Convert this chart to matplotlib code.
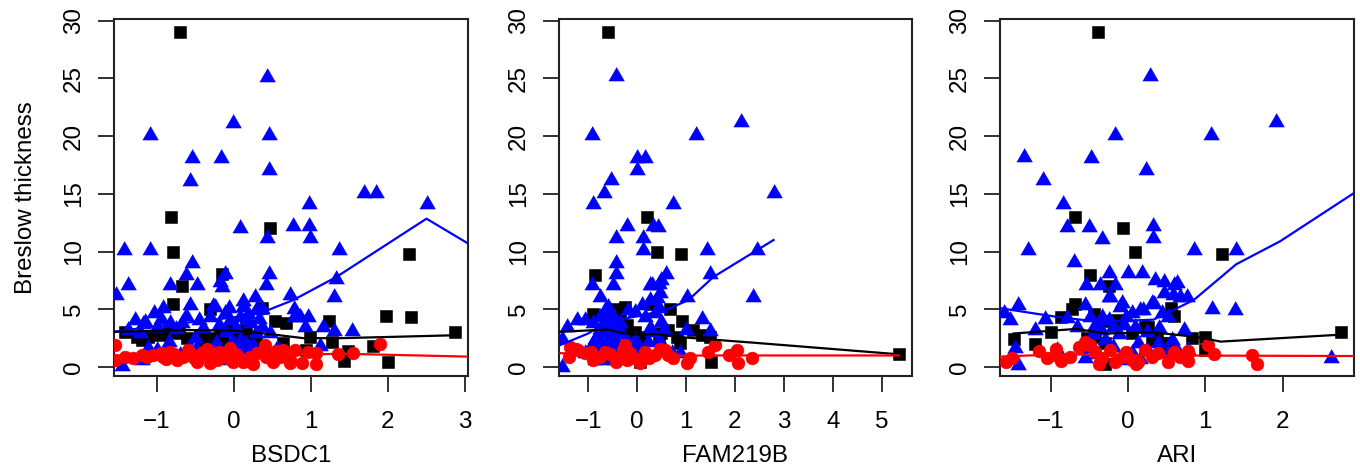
import matplotlib
matplotlib.use("Agg")
import matplotlib.pyplot as plt
import numpy as np

plt.rcParams['font.family'] = ['Liberation Sans', 'DejaVu Sans']

# ---------------- data ----------------
genes = ["BSDC1", "FAM219B", "ARI"]
y_label = "Breslow thickness"
y_ticks = [0, 5, 10, 15, 20, 25, 30]
x_ticks = [[-1, 0, 1, 2, 3], [-1, 0, 1, 2, 3, 4, 5], [-1, 0, 1, 2]]
x_limits = [(-1.558, 3.039), (-1.595, 5.62), (-1.656, 2.924)]
y_limits = (-0.78, 30.15)

# Panel 1 (BSDC1)
p1_blue = [(-1.53, 6.2), (-1.43, 10.1), (-1.37, 7.1), (-1.46, 0.1), (-1.28, 4.1), (-1.20, 0.6),
           (-1.18, 3.7), (-1.09, 20.1), (-1.09, 10.1), (-1.04, 4.7), (-0.92, 5.1), (-0.83, 7.1),
           (-0.62, 8.0), (-0.57, 16.1), (-0.54, 18.1), (-0.54, 9.0), (-0.57, 5.4), (-0.48, 7.1),
           (-0.45, 4.1), (-0.49, 1.56), (-0.27, 5.25), (-0.23, 2.1), (-0.17, 18.1), (-0.18, 7.4),
           (-0.12, 8.1), (-0.15, 6.9), (-0.07, 5.1), (-0.01, 21.1), (0.0, 0.8), (0.08, 12.0),
           (0.12, 5.7), (0.17, 4.1), (0.25, 1.8), (0.27, 6.1), (0.43, 25.1), (0.46, 20.1),
           (0.45, 17.1), (0.43, 11.2), (0.45, 8.1), (0.41, 7.1), (0.37, 5.0), (0.43, 1.5),
           (0.59, 1.5), (0.73, 6.2), (0.77, 12.2), (0.78, 5.0), (0.78, 4.3), (0.98, 14.1),
           (0.98, 12.2), (0.99, 11.2), (0.96, 4.3), (1.12, 1.8), (1.16, 3.5), (1.30, 6.1),
           (1.32, 7.6), (1.37, 10.1), (1.30, 3.1), (1.53, 3.1), (1.69, 15.1), (1.84, 15.1),
           (2.51, 14.1), (-0.25, 5.23), (0.29, 4.94), (-1.16, 3.93), (-1.37, 3.21), (-1.22, 2.92),
           (-1.00, 3.50), (-0.83, 3.78), (-0.68, 3.78), (-0.31, 4.36), (-0.12, 4.65), (-0.05, 4.07),
           (0.08, 4.36), (0.12, 5.23), (0.21, 3.78), (0.36, 3.50), (0.47, 2.92), (0.86, 4.36),
           (0.92, 3.50), (-0.85, 2.19), (-1.11, 1.62), (-1.00, 1.47), (-0.59, 1.62), (-0.25, 1.91),
           (-0.03, 2.19), (0.08, 2.34), (0.19, 1.76), (0.29, 2.92), (0.55, 1.47), (-0.09, 0.61),
           (0.04, 1.47), (0.14, 2.05), (-0.75, 3.3), (-0.62, 4.4), (-0.40, 3.4), (-0.20, 3.6),
           (-0.10, 3.0), (0.03, 3.4), (0.18, 4.6), (0.33, 4.2), (-0.95, 4.2), (-0.50, 2.5),
           (-0.35, 1.3), (-0.15, 1.0), (0.10, 1.1), (-0.70, 1.0), (-0.88, 1.3)]
p1_black = [(-0.70, 29.0), (-0.82, 13.0), (-0.79, 10.0), (-0.68, 7.0), (-0.79, 5.5), (-0.31, 5.0),
            (-0.16, 8.1), (0.47, 12.0), (0.37, 5.1), (0.53, 4.0), (0.67, 3.8), (0.64, 2.1),
            (0.99, 2.6), (0.94, 1.5), (1.24, 4.0), (1.27, 2.2), (1.43, 0.5), (1.48, 1.4),
            (1.81, 1.8), (1.98, 4.4), (2.0, 0.4), (2.27, 9.8), (2.30, 4.3), (2.87, 3.0),
            (-1.42, 3.06), (-1.26, 2.63), (-1.11, 2.63), (-1.20, 2.34), (-0.96, 2.77), (-0.85, 3.06),
            (-0.72, 2.92), (-0.61, 2.48), (-0.44, 2.77), (-0.31, 2.48), (-0.18, 2.92), (-0.14, 2.19),
            (-0.05, 3.21), (0.08, 2.92), (0.16, 3.50), (0.21, 2.48), (0.29, 2.05), (-0.40, 2.05)]
p1_red = [(-1.55, 1.9), (-1.55, 0.6), (-1.31, 0.75), (-1.20, 1.0), (-1.13, 0.90), (-1.05, 1.04),
          (-0.95, 1.2), (-0.92, 0.90), (-0.83, 1.33), (-0.74, 0.61), (-0.66, 0.90), (-0.60, 1.5),
          (-0.57, 1.19), (-0.48, 0.46), (-0.40, 1.33), (-0.35, 1.6), (-0.31, 0.90), (-0.31, 0.32),
          (-0.22, 0.61), (-0.20, 1.3), (-0.14, 1.04), (-0.05, 1.62), (-0.01, 0.46), (0.12, 0.61),
          (0.12, 0.46), (0.21, 0.90), (0.25, 0.3), (0.40, 1.9), (0.42, 0.90), (0.51, 0.46),
          (0.55, 1.4), (0.64, 1.45), (0.73, 0.61), (0.73, 0.32), (0.79, 1.47), (0.88, 0.32),
          (0.96, 1.3), (1.07, 0.26), (1.07, 1.19), (1.35, 1.1), (1.55, 1.2), (1.9, 2.0),
          (-1.42, 0.9), (-0.88, 0.7), (-0.78, 1.1), (-0.52, 0.8), (-0.44, 1.0), (-0.26, 1.1),
          (-0.08, 0.8), (0.04, 1.0), (0.30, 1.2), (0.60, 0.9)]
p1_blue_line_x = [-1.56, -1.0, 0.0, 0.43, 0.77, 1.33, 2.50, 3.04]
p1_blue_line_y = [3.05, 3.55, 4.3, 4.9, 5.8, 7.8, 12.85, 10.7]
p1_black_line_x = [-1.55, -0.6, 0.0, 0.4, 0.9, 1.4, 2.87]
p1_black_line_y = [3.05, 3.2, 3.15, 2.9, 2.5, 2.5, 2.75]
p1_red_line_x = [-1.56, 0.0, 1.4, 3.04]
p1_red_line_y = [1.0, 0.95, 1.15, 0.9]

# Panel 2 (FAM219B)
p2_blue = [(-0.42, 25.2), (-0.93, 20.1), (-0.89, 14.1), (-0.67, 15.1), (-0.54, 16.2), (-0.43, 11.2),
           (-0.43, 8.1), (-0.43, 9.0), (-0.49, 7.1), (-0.21, 12.2), (-0.01, 18.1), (0.16, 18.1),
           (-0.01, 17.1), (0.12, 11.2), (0.12, 10.1), (0.30, 7.1), (0.33, 12.2), (0.43, 12.1),
           (0.50, 7.5), (0.59, 8.1), (0.73, 14.1), (1.02, 6.1), (1.21, 20.1), (1.43, 10.1),
           (1.49, 8.1), (2.12, 21.2), (2.38, 6.1), (2.45, 10.1), (2.79, 15.1), (-0.93, 7.1),
           (-0.75, 6.1), (-1.44, 3.5), (-1.53, 2.4), (-1.54, 0.0), (0.30, 3.0), (0.55, 3.2),
           (1.00, 3.2), (1.33, 4.2), (1.50, 3.1), (0.27, 7.1), (0.44, 7.2),
           (-0.89, 3.78), (-0.76, 4.36), (-0.65, 4.94), (-0.59, 5.23), (-0.79, 2.77), (-0.65, 3.06),
           (-0.52, 3.35), (-0.45, 4.07), (-0.35, 3.78), (-0.93, 1.91), (-0.72, 1.62), (-0.55, 1.91),
           (-0.35, 1.76), (-0.25, 1.47), (-0.18, 4.94), (-0.04, 4.80), (0.10, 5.37), (0.27, 5.81),
           (0.40, 5.95), (0.47, 6.38), (0.16, 4.36), (0.37, 4.65), (0.44, 5.09), (0.27, 3.35),
           (0.50, 3.93), (-0.04, 2.34), (0.23, 2.19), (0.44, 2.34), (0.71, 1.18), (0.88, 1.18),
           (-1.06, 1.18), (-0.86, 0.61), (-0.65, 0.61), (-0.48, 0.61), (-1.23, 4.07), (-1.06, 4.07),
           (-0.70, 2.3), (-0.60, 1.0), (-0.50, 2.6), (-0.40, 1.2), (-0.30, 2.9), (-0.80, 1.2),
           (-0.55, 4.5), (-0.65, 3.9), (-0.75, 3.3), (-0.60, 2.8), (-0.45, 2.0), (-0.70, 0.9),
           (-0.55, 1.4), (-0.38, 3.0), (-0.85, 2.4), (-0.20, 2.2), (-0.10, 1.3), (0.05, 1.6)]
p2_black = [(-0.60, 29.06), (-0.86, 8.0), (0.20, 13.0), (0.40, 10.0), (0.90, 9.8), (-0.91, 4.6),
            (-0.45, 5.0), (0.30, 5.5), (0.67, 5.0), (0.92, 4.0), (1.50, 2.6), (1.51, 0.4),
            (5.35, 1.1), (0.45, 2.6), (-0.35, 4.07), (-0.21, 3.64), (-0.04, 3.06), (0.13, 2.63),
            (-0.04, 2.19), (-0.18, 2.77), (0.50, 2.92), (0.64, 3.20), (0.81, 2.63), (1.15, 3.20),
            (1.32, 2.77), (0.88, 2.05), (0.06, 0.46), (-0.25, 5.23)]
p2_red = [(-1.37, 1.76), (-1.25, 1.6), (-1.40, 0.9), (-1.20, 1.47), (-1.06, 1.18), (-0.89, 0.61),
          (-0.65, 1.33), (-0.44, 0.4), (-0.41, 0.75), (-0.28, 1.47), (-0.24, 1.9), (-0.20, 0.6),
          (-0.14, 1.18), (-0.07, 0.75), (0.06, 0.32), (0.16, 1.33), (0.37, 1.04), (0.57, 1.47),
          (0.64, 1.04), (0.74, 0.75), (1.02, 0.35), (1.08, 0.75), (1.46, 1.33), (1.60, 1.91),
          (1.87, 1.04), (2.04, 1.47), (2.07, 0.32), (2.35, 0.75), (-0.95, 1.3), (-0.75, 0.9),
          (-0.55, 1.1), (-0.32, 0.9), (0.25, 0.8), (0.47, 1.6)]
p2_blue_line_x = [-1.57, -1.0, -0.6, 0.0, 0.57, 1.05, 1.56, 2.79]
p2_blue_line_y = [1.9, 2.9, 3.9, 4.4, 4.9, 5.8, 7.8, 11.0]
p2_black_line_x = [-1.57, -0.6, -0.3, 0.0, 0.4, 1.0, 2.4, 5.35]
p2_black_line_y = [3.05, 3.25, 2.95, 2.8, 2.85, 2.55, 2.1, 1.1]
p2_red_line_x = [-1.57, 0.0, 1.5, 5.35]
p2_red_line_y = [1.2, 0.95, 1.0, 1.0]

# Panel 3 (ARI)
p3_blue = [(0.28, 25.2), (-1.35, 18.2), (-1.29, 10.1), (-1.10, 16.2), (-0.84, 14.1), (-0.79, 12.1),
           (-0.70, 9.1), (-0.48, 18.1), (-0.51, 12.1), (-0.34, 11.1), (-0.17, 20.1), (0.23, 17.1),
           (0.32, 12.2), (0.32, 11.2), (0.47, 7.4), (0.60, 7.1), (0.58, 6.2), (0.85, 10.1),
           (1.08, 20.1), (1.09, 5.0), (1.40, 10.1), (1.39, 4.9), (1.91, 21.2), (2.62, 0.8),
           (-0.25, 6.1), (-0.10, 5.2), (0.16, 4.9), (0.33, 5.5),
           (-1.61, 4.65), (-1.53, 4.07), (-1.42, 5.37), (-1.46, 1.62), (-1.42, 0.17), (-1.20, 3.20),
           (-1.08, 4.13), (-0.92, 1.47), (-0.79, 4.22), (-0.66, 3.49), (-0.56, 5.37), (-0.54, 7.11),
           (-0.49, 4.36), (-0.43, 3.64), (-0.36, 7.11), (-0.25, 8.12), (-0.17, 7.11), (-0.34, 4.36),
           (-0.25, 4.07), (-0.19, 3.49), (-0.23, 6.09), (-0.30, 2.34), (-0.19, 1.76), (-0.58, 1.62),
           (-0.56, 0.75), (-0.08, 5.52), (-0.02, 4.36), (0.00, 8.12), (0.05, 4.65), (0.09, 3.49),
           (0.13, 2.05), (0.18, 8.12), (0.20, 4.94), (0.24, 1.47), (0.31, 5.52), (0.35, 7.54),
           (0.44, 4.65), (0.46, 6.38), (0.52, 4.36), (0.39, 2.05), (0.50, 1.18), (0.57, 2.34),
           (0.63, 7.25), (0.67, 6.09), (0.76, 6.09), (0.72, 3.20), (0.61, 1.76), (0.78, 1.47),
           (-0.05, 0.6), (0.05, 1.2), (-0.12, 2.9), (0.15, 0.7), (-0.45, 2.9), (-0.35, 3.2),
           (-0.05, 3.6), (0.25, 3.0), (0.40, 3.4), (-0.40, 1.1)]
p3_black = [(-0.39, 29.06), (-0.69, 13.0), (-0.06, 12.0), (0.09, 10.0), (1.22, 9.8), (-0.49, 8.0),
            (-0.25, 7.0), (-0.69, 5.5), (-0.73, 5.0), (-0.87, 4.3), (-0.44, 4.6), (-0.99, 3.0),
            (-1.48, 2.4), (-1.20, 2.0), (-0.30, 4.0), (-0.14, 4.1), (0.55, 5.1), (0.60, 4.4),
            (0.38, 2.4), (0.47, 2.1), (0.83, 2.5), (1.00, 2.6), (1.00, 1.5), (2.75, 3.0),
            (-0.30, 0.3), (-0.43, 2.63), (-0.30, 2.05), (0.05, 2.92), (0.22, 3.49), (0.31, 2.34),
            (0.52, 2.05), (0.26, 3.5), (-0.53, 2.5)]
p3_red = [(-1.58, 0.46), (-1.50, 0.8), (-1.15, 1.4), (-1.05, 0.8), (-0.93, 1.6), (-0.87, 0.5),
          (-0.53, 2.0), (-0.37, 0.3), (0.10, 0.3), (0.78, 1.4), (0.77, 0.5), (1.04, 1.9),
          (1.11, 1.1), (1.60, 1.0), (1.67, 0.3), (-0.94, 1.04), (-0.75, 0.90), (-0.64, 1.76),
          (-0.56, 2.19), (-0.49, 1.91), (-0.43, 1.33), (-0.34, 0.75), (-0.23, 1.47), (-0.17, 0.46),
          (-0.08, 0.90), (-0.02, 1.33), (0.05, 0.61), (0.13, 0.46), (0.22, 1.47), (0.31, 0.90),
          (0.39, 1.18), (0.52, 0.46), (0.59, 1.33), (0.67, 0.90), (0.78, 1.18)]
p3_blue_line_x = [-1.66, -0.88, -0.35, -0.06, 0.33, 0.85, 1.40, 1.97, 2.93]
p3_blue_line_y = [5.1, 4.3, 3.9, 4.0, 4.1, 5.8, 8.9, 10.9, 15.1]
p3_black_line_x = [-1.48, -0.67, -0.30, 0.33, 0.89, 1.20, 2.75]
p3_black_line_y = [2.9, 3.3, 2.9, 3.0, 2.6, 2.2, 2.8]
p3_red_line_x = [-1.66, -0.88, 0.33, 2.93]
p3_red_line_y = [0.9, 1.1, 1.0, 0.95]

panels = [
    (p1_blue, p1_black, p1_red, (p1_blue_line_x, p1_blue_line_y), (p1_black_line_x, p1_black_line_y), (p1_red_line_x, p1_red_line_y)),
    (p2_blue, p2_black, p2_red, (p2_blue_line_x, p2_blue_line_y), (p2_black_line_x, p2_black_line_y), (p2_red_line_x, p2_red_line_y)),
    (p3_blue, p3_black, p3_red, (p3_blue_line_x, p3_blue_line_y), (p3_black_line_x, p3_black_line_y), (p3_red_line_x, p3_red_line_y)),
]

# ---------------- figure ----------------
W, H = 1360, 472
fig = plt.figure(figsize=(W / 100, H / 100), dpi=100)
boxes_px = [(114, 468), (559, 912), (1000, 1354)]
top_px, bot_px = 19, 376

tri = [(-1, -0.577), (1, -0.577), (0, 1.155)]
FS = 17.4

for i, (blue, black, red, bl, kl, rl) in enumerate(panels):
    l, r = boxes_px[i]
    ax = fig.add_axes([l / W, 1 - bot_px / H, (r - l) / W, (bot_px - top_px) / H])
    bx, by = zip(*blue)
    kx, ky = zip(*black)
    rx, ry = zip(*red)
    ax.plot(kx, ky, ls='none', marker='s', ms=8.6, mew=0.4, color='black', zorder=2)
    ax.plot(bx, by, ls='none', marker=tri, ms=13.0, mew=0.4, color='#0000ff', zorder=3)
    ax.plot(rx, ry, ls='none', marker='o', ms=9.2, mew=0.4, color='#ff0000', zorder=3)
    ax.plot(bl[0], bl[1], color='#0000ff', lw=1.6, zorder=5)
    ax.plot(kl[0], kl[1], color='black', lw=1.6, zorder=5)
    ax.plot(rl[0], rl[1], color='#ff0000', lw=1.6, zorder=5)

    ax.set_xlim(*x_limits[i])
    ax.set_ylim(*y_limits)
    ax.set_xticks(x_ticks[i])
    ax.set_yticks(y_ticks)
    ax.set_xticklabels([f"{t}".replace('-', '\u2212') for t in x_ticks[i]])
    ax.set_yticklabels([str(t) for t in y_ticks])
    ax.tick_params(axis='both', direction='out', length=11.5, width=1.3, labelsize=FS, color='#222222')
    ax.tick_params(axis='x', pad=14)
    ax.tick_params(axis='y', pad=9.4)
    for lab in ax.get_yticklabels():
        lab.set_rotation(90)
        lab.set_va('center')
    for s in ax.spines.values():
        s.set_linewidth(1.5)
        s.set_color('#222222')
    ax.set_xlabel(genes[i], fontsize=FS)
    ax.xaxis.set_label_coords(0.5, (bot_px - 445) / (bot_px - top_px))
    if i == 0:
        ax.set_ylabel(y_label, fontsize=FS)
        ax.yaxis.set_label_coords((37 - l) / (r - l), 0.5)

fig.savefig("out.png", dpi=100)
